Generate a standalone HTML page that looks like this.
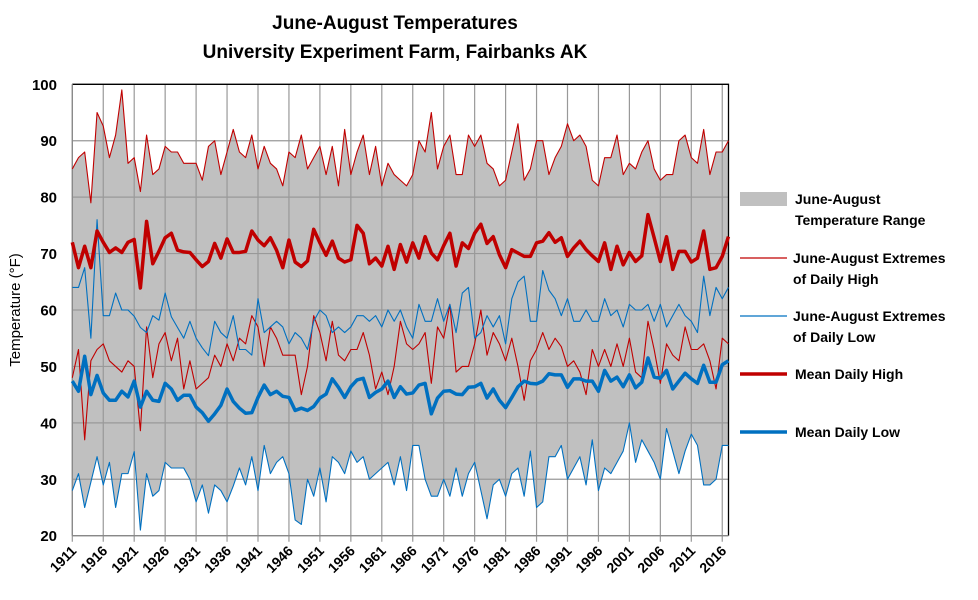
<!DOCTYPE html>
<html><head><meta charset="utf-8"><style>
body{margin:0;background:#fff;width:978px;height:595px;overflow:hidden;font-family:"Liberation Sans",sans-serif;}
svg text{font-family:"Liberation Sans",sans-serif;font-weight:bold;}
</style></head><body>
<svg id="chart" width="978" height="595"></svg>
<script>
const startYear = 1911;
const extHigh = [85,87,88,79,95,92.6,87,91,99,86,87,81,91,84,85,89,88,88,86,86,86,83,89,90,84,88,92,88,87,91,85,89,86,85,82,88,87,91,85,87,89,84,89,82,92,84,88,91,84,89,82,86,84,83,82,84,90,88,95,85,89,91,84,84,91,89,91,86,85,82,83,88,93,83,85,90,90,84,87,89,93,90,91,89,83,82,87,87,91,84,86,85,88,90,85,83,84,84,90,91,87,86,92,84,88,88,90];
const meanHigh = [72,67.5,71.3,67.5,74,72,70.2,71,70.2,72,72.5,63.9,75.7,68.2,70.4,72.8,73.6,70.6,70.3,70.2,68.9,67.7,68.6,71.8,69.2,72.6,70.2,70.2,70.4,74,72.4,71.4,72.8,70.6,67.5,72.4,68.5,67.7,68.7,74.3,71.9,69.7,72.2,69.2,68.5,68.9,75,73.6,68.2,69.2,67.8,71.3,67.2,71.6,68.5,71.9,69.2,73,70.1,68.9,71.4,73.6,67.8,71.9,70.9,73.6,75.2,71.8,73,69.8,67.5,70.7,70.1,69.5,69.5,71.9,72.2,73.7,72,72.8,69.5,71,72.2,70.7,69.6,68.6,71.9,67.2,71.3,68,70.2,68.6,69.6,76.9,72.8,68.6,73,67.2,70.4,70.4,68.5,69.2,74,67.2,67.5,69.5,73];
const extLowMax = [64,64,67.5,55,76,59,59,63,60,60,58.9,56.9,56,59,58.2,63,58.8,56.9,55,58,55,53.3,51.9,58,56,55,59,53,53,52,62,56,57,58,57,54,56,55,53,58,60,59,56,57,56,57,59,59,58,59,57,60,58,60,57,55,61,58,58,62,58,61,56,63,64,55,56,59,57,59,54,62,65,66,58,58,67,63.5,62,59,62,58,58,60,58,58,62,59,60,57,61,60,60,61,58,61,57,59,61,59,58,56,66,59,64,62,64];
const extHighMin = [48,53,37,51,53,54,51,50,49,51,50,38.6,57,48,54,56,51,55,46,51,46,47,48,52,50,54,51,55,54,59,57,50,57,55,52,52,52,45,50,59,56,51,58,52,51,53,53,56,52,46,49,45,50,58,54,53,54,56,47,57,55,61,49,50,50,54,60,52,56,54,51,55,50,44,51,53,56,53,55,53.5,50,51,49,45,53,50,53,50,54,50,55,49,48,58,53,47,54,52,51,57,53,53,54,51,46,55,54];
const meanLow = [47.4,45.6,51.8,45,48.4,45.3,44,44,45.6,44.6,47.4,42.8,45.6,44,43.8,47,46,44,44.9,44.9,42.8,41.8,40.3,41.6,43.1,46,43.8,42.6,41.7,41.8,44.5,46.7,45,45.6,44.7,44.5,42.2,42.6,42.2,42.9,44.4,45.1,47.8,46.3,44.5,46.4,47.6,47.9,44.5,45.4,46,47.4,44.5,46.4,45.1,45.3,46.7,47,41.6,44.4,45.6,45.7,45.1,45,46.3,46.4,47,44.4,46,44,42.7,44.5,46.4,47.4,47,46.9,47.4,48.7,48.5,48.5,46.3,47.8,47.8,47.4,47.4,45.6,49.3,47.4,48.1,46.4,48.5,46.2,47.2,51.5,48.1,47.9,49.3,46,47.4,48.8,47.8,47,50.2,47.2,47.2,50.3,51];
const extLow = [28,31,25,29.5,34,29,33,25,31,31,34.9,21,31,27,28,33,32,32,32,30,26,29,24,29,28,26,28.8,32,29,34,28,36,31,33,34,31,22.8,22,30,27,32,26,34,33,31,35,33,34,30,31,32,33,29,34,28,36,36,30,27,27,30,27,32,27,31,33,28,23,29,30,27,31,32,27,35,25,26,34,34,36,30,32,34,29,37,28,32,31,33,35,40,33,37,35,33,30,39,35,31,35,38,36,29,29,30,36,36];
const yTicks = [20,30,40,50,60,70,80,90,100];
const xTickYears = [1911,1916,1921,1926,1931,1936,1941,1946,1951,1956,1961,1966,1971,1976,1981,1986,1991,1996,2001,2006,2011,2016];

const NS="http://www.w3.org/2000/svg";
const svg=document.getElementById('chart');
const L=72.3, R=728.5, T=84.3, B=535.7, step=6.19;
const xs=i=>L+i*step;
const xy=yr=>L+(yr-startYear)*step;
const ys=v=>B-(v-20)*(B-T)/80;
function mk(tag,attrs,parent){const e=document.createElementNS(NS,tag);for(const k in attrs)e.setAttribute(k,attrs[k]);(parent||svg).appendChild(e);return e;}

// fill
const fillPts=extHigh.map((v,i)=>xs(i)+','+ys(v)).concat(extLow.map((v,i)=>[i,v]).reverse().map(p=>xs(p[0])+','+ys(p[1])));
const fill=mk('polygon',{points:fillPts.join(' '),fill:'#C0C0C0'});



// grid
yTicks.forEach(v=>{
  const g=mk('line',{x1:L,x2:R,y1:ys(v),y2:ys(v),stroke:'#999','stroke-width':1.2});
  
  
  const t=mk('text',{x:57,y:ys(v)+5.5,'text-anchor':'end','font-size':15,fill:'#000'});
  t.textContent=v;
  
  
});
xTickYears.forEach(yr=>{
  const x=xy(yr);
  const g=mk('line',{x1:x,x2:x,y1:T,y2:B+6,stroke:'#999','stroke-width':1.2});
  
  
  const t=mk('text',{x:x+5,y:B+16,'text-anchor':'end','font-size':14,fill:'#000',transform:`rotate(-45 ${x+5} ${B+16})`});
  t.textContent=yr;
  
  
});
const frame=mk('path',{d:`M${L},${T} H${R} V${B}`,fill:'none',stroke:'#000','stroke-width':1.3});


const lax=mk('line',{x1:L,x2:L,y1:T,y2:B,stroke:'#888','stroke-width':1.3});


const bax=mk('line',{x1:L,x2:R,y1:B,y2:B,stroke:'#888','stroke-width':1.3});



function line(arr,color,w,name){
  const p=mk('polyline',{points:arr.map((v,i)=>xs(i)+','+ys(v)).join(' '),fill:'none',stroke:color,'stroke-width':w,'stroke-linejoin':'round'});
  
  
}
line(extHigh,'#C00000',1.1,'extreme-high-line');
line(extHighMin,'#C00000',1.1,'extreme-high-min-line');
line(extLowMax,'#0070C0',1.1,'extreme-low-max-line');
line(extLow,'#0070C0',1.1,'extreme-low-line');
line(meanHigh,'#C00000',3.5,'mean-daily-high-line');
line(meanLow,'#0070C0',3.5,'mean-daily-low-line');
</script>
<svg style="position:absolute;left:0;top:0" width="978" height="595">
<text x="395" y="29" text-anchor="middle" font-size="19">June-August Temperatures</text>
<text x="395" y="58" text-anchor="middle" font-size="19">University Experiment Farm, Fairbanks AK</text>
<text x="20" y="310" text-anchor="middle" font-size="15" font-weight="normal" style="font-weight:normal" transform="rotate(-90 20 310)">Temperature (°F)</text>
<g>
<rect x="740" y="192" width="47" height="14" fill="#C0C0C0"/>
<text x="795" y="204" font-size="14"><tspan x="795">June-August</tspan><tspan x="795" dy="21">Temperature Range</tspan></text>
<line x1="740" x2="787" y1="258" y2="258" stroke="#C00000" stroke-width="1.3"/>
<text x="793" y="263" font-size="14"><tspan x="793">June-August Extremes</tspan><tspan x="793" dy="21">of Daily High</tspan></text>
<line x1="740" x2="787" y1="316" y2="316" stroke="#0070C0" stroke-width="1.3"/>
<text x="793" y="321" font-size="14"><tspan x="793">June-August Extremes</tspan><tspan x="793" dy="21">of Daily Low</tspan></text>
<line x1="740" x2="787" y1="374" y2="374" stroke="#C00000" stroke-width="3.5"/>
<text x="795" y="379" font-size="14">Mean Daily High</text>
<line x1="740" x2="787" y1="432" y2="432" stroke="#0070C0" stroke-width="3.5"/>
<text x="795" y="437" font-size="14">Mean Daily Low</text>
</g>
</svg>
</body></html>
